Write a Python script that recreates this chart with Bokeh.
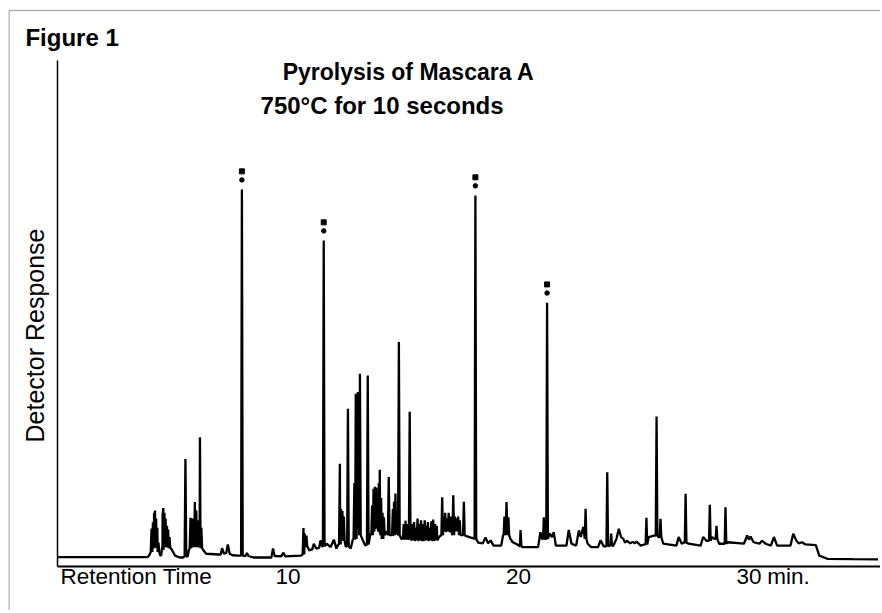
from bokeh.plotting import figure
from bokeh.models import Range1d, FixedTicker, LinearAxis, Label, BoxAnnotation
from bokeh.embed import file_html
from bokeh.resources import INLINE

# ---------------- data ----------------
# retention time in minutes, detector response in % of the largest peak
# broad features / baseline knots of the trace
trace_t = [0.00, 3.92, 4.00, 4.45, 4.50, 4.95, 5.10, 5.30, 5.45, 5.65, 5.70,
           6.32, 6.45, 7.00, 7.08, 7.14, 7.22, 7.32, 7.39, 7.47, 7.60, 7.85,
           8.15, 8.22, 8.28, 8.50, 9.28, 9.35, 9.42, 9.70, 9.80, 9.88, 10.55,
           10.92, 11.05, 11.12, 11.22, 11.35, 11.41, 11.48, 11.68, 11.85, 11.99,
           12.10, 12.18, 12.50, 12.72, 12.82, 13.22, 13.35, 13.58, 14.28, 14.45,
           14.92, 16.55, 17.53, 17.72, 17.90, 18.02, 18.25, 18.45, 18.57, 18.68,
           18.79, 18.92, 19.25, 19.33, 19.65, 19.75, 19.95, 20.20, 20.85, 20.95,
           21.02, 21.35, 21.45, 21.53, 21.62, 22.08, 22.18, 22.30, 22.50, 22.62,
           22.70, 22.81, 23.00, 23.15, 23.45, 23.56, 23.70, 23.95, 24.12, 24.25,
           24.35, 24.45, 24.55, 24.62, 24.70, 24.85, 24.95, 25.05, 25.12, 25.30,
           25.45, 25.65, 25.88, 26.07, 26.28, 26.85, 26.95, 27.08, 27.17, 27.38,
           27.90, 28.01, 28.15, 28.40, 28.50, 28.70, 28.88, 29.08, 29.78, 29.92,
           30.00, 30.07, 30.20, 30.45, 30.57, 30.72, 30.95, 31.08, 31.22, 31.80,
           31.92, 32.05, 32.15, 32.30, 32.45, 32.90, 33.05, 33.40, 34.50, 35.60]
trace_v = [0.1, 0.1, 0.8, 0.6, 0.6, 2.2, 0.5, 0.0, 0.0, 0.3, 2.0,
           2.0, 1.0, 0.8, 0.8, 2.5, 1.0, 1.2, 3.5, 1.0, 0.6, 0.5,
           0.4, 1.2, 0.4, 0.0, 0.0, 2.4, 0.4, 0.3, 1.3, 0.3, 0.5,
           1.9, 2.2, 3.7, 2.4, 2.6, 4.6, 3.0, 3.7, 2.8, 4.8,
           2.4, 3.5, 3.0, 2.4, 5.0, 5.0, 3.2, 6.5, 7.0, 6.0,
           5.0, 5.5, 6.0, 5.8, 5.4, 5.2, 4.0, 3.8, 5.4, 3.8,
           4.6, 3.2, 3.2, 6.0, 5.0, 4.1, 3.5, 2.8, 2.8, 6.8,
           5.0, 6.5, 5.5, 6.8, 3.2, 3.2, 7.4, 3.7, 3.2, 7.3,
           5.5, 8.2, 3.7, 2.8, 2.8, 4.6, 3.0, 3.2, 3.2, 5.0,
           7.7, 5.5, 5.0, 4.0, 4.5, 3.8, 4.2, 3.8, 4.3, 3.2,
           3.5, 5.5, 5.9, 5.5, 3.7, 3.2, 5.5, 3.7, 4.0, 3.7,
           3.2, 5.5, 4.5, 5.5, 5.0, 3.7, 3.7, 4.1, 3.7, 5.9,
           4.8, 5.6, 4.1, 3.7, 4.5, 3.7, 3.2, 5.5, 3.2, 3.2,
           6.4, 4.6, 3.8, 4.1, 3.5, 3.3, 0.5, -0.35, -0.45, -0.5]

# narrow peaks: time, apex, level at the foot
spike_t = [4.08, 4.14, 4.19, 4.23, 4.28, 4.33, 4.38,
           4.56, 4.59, 4.64, 4.69, 4.75, 4.80, 4.86,
           5.55,
           5.77, 5.82, 5.87, 5.96, 6.02, 6.08, 6.13, 6.18, 6.24,
           8.00,
           10.67, 10.72, 10.80,
           11.55,
           12.25, 12.30, 12.36, 12.42, 12.60,
           12.88, 12.94, 12.98, 13.03, 13.08, 13.12, 13.46,
           13.65, 13.71, 13.77, 13.83, 13.89, 13.94, 13.98, 14.04, 14.10, 14.16,
           14.37, 14.55, 14.60, 14.66, 14.81,
           15.02, 15.10, 15.16, 15.28,
           15.40, 15.47, 15.55, 15.62, 15.70, 15.77, 15.85, 15.93, 16.00, 16.07,
           16.15, 16.22, 16.30, 16.38, 16.45,
           16.69, 16.75, 16.82, 16.90, 16.97, 17.05, 17.17, 17.24, 17.31, 17.38,
           17.45, 17.63,
           18.13,
           19.39, 19.48, 19.56, 20.09, 21.10,
           21.24,
           22.91, 23.85, 24.02, 25.55, 25.99, 26.16, 27.25, 28.30, 28.59, 28.98]
spike_top = [7.8, 9.5, 12.0, 12.6, 10.5, 8.0, 4.0,
             11.5, 13.3, 12.0, 10.5, 8.5, 7.5, 5.5,
             26.5,
             10.7, 8.0, 10.5, 14.9, 12.6, 9.0, 10.0, 32.3, 8.0,
             98.9,
             7.9, 6.5, 5.9,
             85.2,
             25.2, 13.0, 12.5, 11.0, 40.0,
             20.0, 44.0, 40.0, 44.5, 42.0, 49.4, 48.9,
             14.0, 18.5, 19.0, 18.8, 17.0, 20.0, 23.6, 16.0, 12.0, 10.8,
             21.6, 13.0, 15.0, 17.2, 57.9,
             9.0, 9.9, 9.0, 39.2,
             9.0, 9.5, 8.0, 10.5, 9.0, 10.0, 9.0, 10.0, 8.5, 9.5,
             8.0, 9.7, 10.2, 9.0, 8.5,
             16.2, 11.0, 12.0, 10.5, 12.0, 11.0, 16.7, 11.0, 10.5, 11.0,
             10.0, 15.0,
             97.3,
             11.0, 14.9, 10.8, 7.4, 10.8,
             68.5,
             13.1, 22.9, 6.4, 10.7, 37.9, 10.4, 17.1, 14.2, 8.5, 13.5]
spike_base = [1.5, 2.5, 3.0, 3.0, 3.0, 2.5, 1.5,
              2.0, 3.0, 3.0, 3.0, 3.0, 3.0, 2.5,
              0.3,
              2.5, 3.0, 3.0, 3.0, 3.0, 3.0, 3.0, 3.0, 2.5,
              0.5,
              0.8, 3.0, 3.0,
              3.0,
              3.5, 5.0, 5.0, 4.5, 3.0,
              5.0, 5.0, 8.0, 8.0, 8.0, 6.0, 3.5,
              6.0, 7.0, 8.0, 8.0, 8.0, 7.0, 7.0, 6.0, 5.0, 6.0,
              6.0, 6.0, 6.0, 7.0, 6.0,
              5.0, 5.0, 5.0, 5.0,
              4.6, 4.6, 4.6, 4.6, 4.6, 4.6, 4.6, 4.6, 4.6, 4.6,
              4.6, 4.6, 4.6, 4.6, 4.6,
              6.0, 7.0, 7.0, 7.0, 7.0, 7.0, 6.0, 7.0, 7.0, 7.0,
              6.0, 6.0,
              5.0,
              6.0, 7.0, 6.0, 3.0, 5.0,
              5.0,
              5.0, 3.0, 3.2, 3.5, 5.9, 5.5, 4.0, 4.5, 5.0, 3.7]

# marked reference peaks
mark_t = [8.00, 11.55, 18.13, 21.24]
mark_top = [98.9, 85.2, 97.3, 68.5]

x_ticks = [10, 20, 30]
title_text = "Pyrolysis of Mascara A"
subtitle_text = "750°C for 10 seconds"
figure_text = "Figure 1"
x_title = "Retention Time"
x_unit = "min."
y_title = "Detector Response"

# ---------------- build the trace ----------------
HALF_W = 0.035
pts = list(zip(trace_t, trace_v))
for t, top, b in zip(spike_t, spike_top, spike_base):
    pts += [(t - HALF_W, b), (t, top), (t + HALF_W, b)]
pts.sort(key=lambda q: q[0])
xs = [q[0] for q in pts]
ys = [q[1] for q in pts]

# ---------------- figure ----------------
X0, X1 = -2.473, 35.705      # full canvas width in minutes
Y0, Y1 = -14.25, 149.73      # full canvas height in response units
AXIS_Y = -2.42               # where the time axis sits
p = figure(width=880, height=610, x_range=Range1d(X0, X1), y_range=Range1d(Y0, Y1),
           output_backend="svg", toolbar_location=None,
           min_border_left=0, min_border_right=0, min_border_top=0, min_border_bottom=0)
p.outline_line_color = None
p.grid.visible = False
p.background_fill_color = "white"
p.border_fill_color = "white"

FONT = "Liberation Sans"
XFONT_SIZE = "22.5px"

# x axis
xa = p.xaxis[0]
xa.fixed_location = AXIS_Y
xa.bounds = (0, X1)
xa.ticker = FixedTicker(ticks=x_ticks)
xa.axis_line_width = 2
xa.axis_line_color = "black"
xa.major_tick_line_color = None
xa.minor_tick_line_color = None
xa.major_tick_out = 0
xa.major_tick_in = 0
xa.minor_tick_out = 0
xa.minor_tick_in = 0
xa.major_label_standoff = 3
xa.major_label_text_font = FONT
xa.major_label_text_font_size = XFONT_SIZE
xa.major_label_text_color = "black"

# y axis line
ya = p.yaxis[0]
ya.fixed_location = 0
ya.ticker = FixedTicker(ticks=[])
ya.bounds = (AXIS_Y, 133.6)
ya.axis_line_width = 1.5
ya.axis_line_color = "black"
ya.major_tick_out = 0
ya.major_tick_in = 0
ya.minor_tick_out = 0
ya.minor_tick_in = 0
ya.major_label_text_font_size = "0px"

# y axis title (second axis only carries the label)
ya2 = LinearAxis(fixed_location=0, ticker=FixedTicker(ticks=[]), bounds=(AXIS_Y, 121.8),
                 axis_line_color=None, major_tick_out=0, major_tick_in=0,
                 minor_tick_out=0, minor_tick_in=0, major_label_text_font_size="0px",
                 axis_label=y_title, axis_label_text_font=FONT,
                 axis_label_text_font_size="25px", axis_label_text_font_style="normal",
                 axis_label_text_color="black", axis_label_standoff=9)
p.add_layout(ya2, "left")

# trace
p.line(xs, ys, line_color="black", line_width=2.3)

# peak markers
p.scatter(mark_t, [v + 4.9 for v in mark_top], marker="square", size=5, color="black")
p.scatter(mark_t, [v + 2.6 for v in mark_top], marker="circle", size=4.5, color="black")

# texts (y = vertical middle of the capitals)
def add_text(x, y, text, size, bold=False, align="left"):
    p.add_layout(Label(x=x, y=y, text=text, text_font=FONT,
                       text_font_style="bold" if bold else "normal",
                       text_font_size=size, text_align=align, text_baseline="middle",
                       text_color="black"))

add_text(-1.39, 139.8, figure_text, "24px", bold=True)
add_text(15.23, 130.5, title_text, "23px", bold=True, align="center")
add_text(14.08, 121.6, subtitle_text, "24px", bold=True, align="center")
add_text(0.13, -5.24, x_title, XFONT_SIZE)
add_text(30.79, -5.24, x_unit, XFONT_SIZE)

# outer frame of the figure (left and top rules)
p.add_layout(BoxAnnotation(left=-2.10, right=40, top=147.04, bottom=-30,
                           fill_alpha=0, fill_color=None, line_color="black", line_width=1.3))

open("out.html", "w").write(file_html(p, INLINE))
